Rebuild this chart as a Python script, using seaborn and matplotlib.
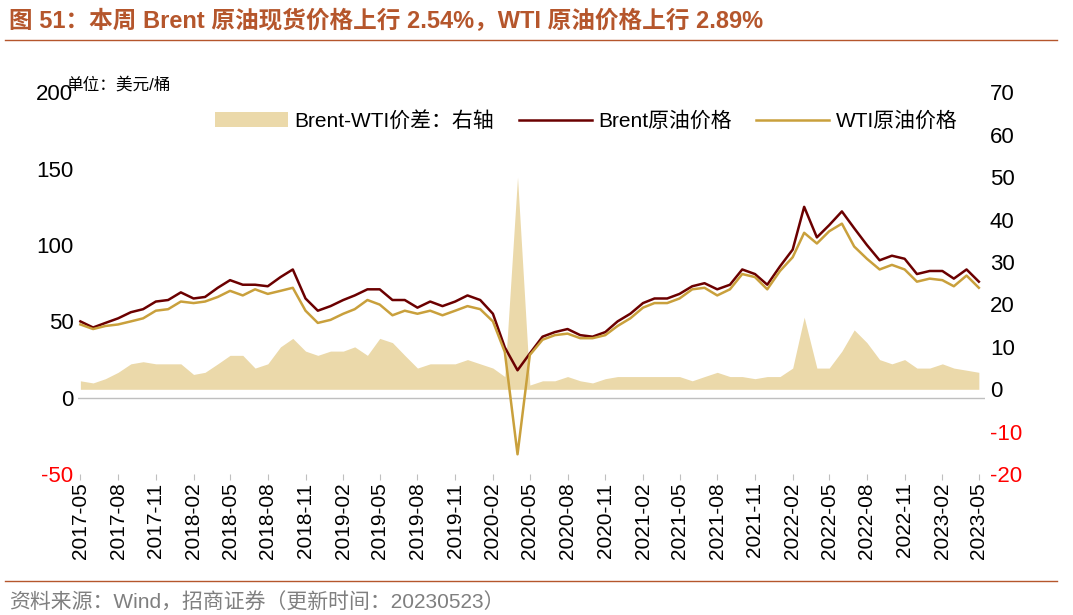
import numpy as np
import pandas as pd
import matplotlib
matplotlib.use('Agg')
import matplotlib.pyplot as plt
import seaborn as sns

plt.rcParams['font.family'] = ['Liberation Sans', 'Noto Sans CJK SC', 'DejaVu Sans']
plt.rcParams['axes.unicode_minus'] = False

# monthly values, 2017-05 .. 2023-05
months = pd.date_range('2017-05-01', '2023-05-01', freq='MS')
brent = [50, 46, 49, 52, 56, 58, 63, 64,
         69, 65, 66, 72, 77, 74, 74, 73, 79, 84, 65, 57,
         60, 64, 67, 71, 71, 64, 64, 59, 63, 60, 63, 67,
         64, 55, 33, 18, 29, 40, 43, 45, 41, 40, 43, 50,
         55, 62, 65, 65, 68, 73, 75, 71, 74, 84, 81, 74,
         86, 97, 125, 105, 113, 122, 111, 100, 90, 93, 91, 81,
         83, 83, 78, 84, 76]
wti = [48, 45, 47, 48, 50, 52, 57, 58,
       63, 62, 63, 66, 70, 67, 71, 68, 70, 72, 57, 49,
       51, 55, 58, 64, 61, 54, 57, 55, 57, 54, 57, 60,
       58, 50, 30, -37, 28, 38, 41, 42, 39, 39, 41, 47,
       52, 59, 62, 62, 65, 71, 72, 67, 71, 81, 79, 71,
       83, 92, 108, 101, 109, 114, 99, 91, 84, 87, 84, 76,
       78, 77, 73, 80, 72]
spread = [2, 1.5, 2.5, 4, 6, 6.5, 6, 6,
          6, 3.5, 4, 6, 8, 8, 5, 6, 10, 12, 9, 8,
          9, 9, 10, 8, 12, 11, 8, 5, 6, 6, 6, 7,
          6, 5, 3, 50, 1, 2, 2, 3, 2, 1.5, 2.5, 3,
          3, 3, 3, 3, 3, 2, 3, 4, 3, 3, 2.5, 3,
          3, 5, 17, 5, 5, 9, 14, 11, 7, 6, 7, 5,
          5, 6, 5, 4.5, 4]
xticks = pd.date_range('2017-05-01', '2023-05-01', freq='3MS')

df = pd.DataFrame({'date': months, 'Brent': brent, 'WTI': wti, 'spread': spread})

fig = plt.figure(figsize=(10.73, 6.15), dpi=100)
ax = fig.add_axes([0.073, 0.229, 0.845, 0.621])
ax2 = ax.twinx()

ax2.fill_between(df['date'], 0, df['spread'], color='#EBD9AA', lw=0, label='Brent-WTI价差：右轴')
sns.lineplot(data=df, x='date', y='Brent', ax=ax, color='#6B0000', lw=1.8, label='Brent原油价格')
sns.lineplot(data=df, x='date', y='WTI', ax=ax, color='#C9A03C', lw=1.8, label='WTI原油价格')
ax.set_zorder(ax2.get_zorder() + 1)
ax.patch.set_visible(False)

ax.set_ylim(-50, 200)
ax2.set_ylim(-20, 70)
ax.set_xlim(months[0] - pd.Timedelta(days=5), months[-1] + pd.Timedelta(days=15))
ax.set_yticks([-50, 0, 50, 100, 150, 200])
ax2.set_yticks(range(-20, 71, 10))
ax.set_xticks(xticks)
ax.set_xticklabels([d.strftime('%Y-%m') for d in xticks], rotation=90, fontsize=15)
ax.tick_params(axis='y', labelsize=16, length=0)
ax2.tick_params(axis='y', labelsize=16, length=0)
for lbl in ax.get_yticklabels() + ax2.get_yticklabels():
    if lbl.get_text().startswith(('-', '−')):
        lbl.set_color('red')
ax.set_xlabel('')
ax.set_ylabel('')
for a in (ax, ax2):
    for s in a.spines.values():
        s.set_visible(False)
ax.axhline(0, color='#BFBFBF', lw=1, zorder=0)
ax.tick_params(axis='x', length=4, color='#BFBFBF', pad=2)

h1, l1 = ax2.get_legend_handles_labels()
h2, l2 = ax.get_legend_handles_labels()
ax.legend(h1 + h2, l1 + l2, loc='upper center', bbox_to_anchor=(0.56, 1.0), ncol=3,
          frameon=False, fontsize=15, handlelength=3.5, columnspacing=1.2, handletextpad=0.3)

fig.text(0.062, 0.855, '单位：美元/桶', fontsize=12)
fig.text(0.008, 0.955, '图 51：本周 Brent 原油现货价格上行 2.54%，WTI 原油价格上行 2.89%',
         fontsize=17, fontweight='bold', color='#B5562C')
fig.add_artist(plt.Line2D([0.005, 0.985], [0.935, 0.935], color='#B5562C', lw=1))
fig.add_artist(plt.Line2D([0.005, 0.985], [0.055, 0.055], color='#B5562C', lw=1))
fig.text(0.008, 0.01, '资料来源：Wind，招商证券（更新时间：20230523）', fontsize=15, color='#7F7F7F')

fig.savefig('out.png', dpi=100)
